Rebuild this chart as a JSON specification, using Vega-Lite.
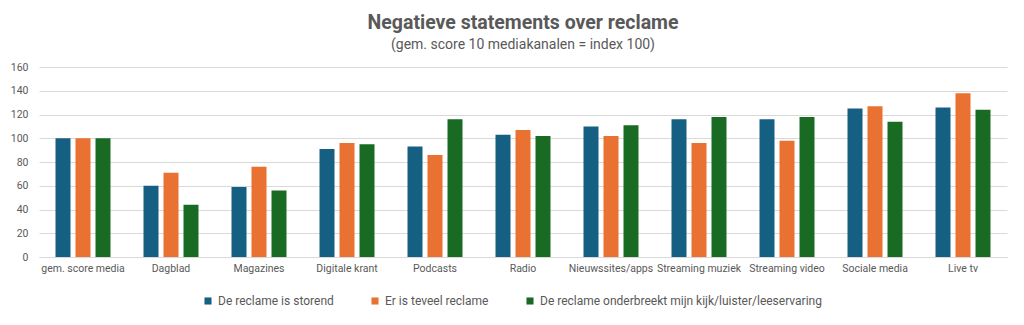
{
  "$schema": "https://vega.github.io/schema/vega-lite/v6.json",
  "autosize": {"type": "none"},
  "width": 968,
  "height": 190,
  "padding": {"left": 39, "top": 67, "right": 17, "bottom": 68},
  "background": "white",
  "title": {
    "text": "Negatieve statements over reclame",
    "subtitle": "(gem. score 10 mediakanalen = index 100)",
    "anchor": "middle",
    "font": "Roboto",
    "fontSize": 19.5,
    "fontWeight": "bold",
    "color": "#595959",
    "subtitleFont": "Roboto",
    "subtitleFontSize": 14,
    "subtitleColor": "#595959",
    "subtitlePadding": 5,
    "offset": 9
  },
  "data": {
    "values": [
      {"kanaal": "gem. score media", "statement": "De reclame is storend", "index": 100},
      {"kanaal": "gem. score media", "statement": "Er is teveel reclame", "index": 100},
      {"kanaal": "gem. score media", "statement": "De reclame onderbreekt mijn kijk/luister/leeservaring", "index": 100},
      {"kanaal": "Dagblad", "statement": "De reclame is storend", "index": 60},
      {"kanaal": "Dagblad", "statement": "Er is teveel reclame", "index": 71},
      {"kanaal": "Dagblad", "statement": "De reclame onderbreekt mijn kijk/luister/leeservaring", "index": 44},
      {"kanaal": "Magazines", "statement": "De reclame is storend", "index": 59},
      {"kanaal": "Magazines", "statement": "Er is teveel reclame", "index": 76},
      {"kanaal": "Magazines", "statement": "De reclame onderbreekt mijn kijk/luister/leeservaring", "index": 56},
      {"kanaal": "Digitale krant", "statement": "De reclame is storend", "index": 91},
      {"kanaal": "Digitale krant", "statement": "Er is teveel reclame", "index": 96},
      {"kanaal": "Digitale krant", "statement": "De reclame onderbreekt mijn kijk/luister/leeservaring", "index": 95},
      {"kanaal": "Podcasts", "statement": "De reclame is storend", "index": 93},
      {"kanaal": "Podcasts", "statement": "Er is teveel reclame", "index": 86},
      {"kanaal": "Podcasts", "statement": "De reclame onderbreekt mijn kijk/luister/leeservaring", "index": 116},
      {"kanaal": "Radio", "statement": "De reclame is storend", "index": 103},
      {"kanaal": "Radio", "statement": "Er is teveel reclame", "index": 107},
      {"kanaal": "Radio", "statement": "De reclame onderbreekt mijn kijk/luister/leeservaring", "index": 102},
      {"kanaal": "Nieuwssites/apps", "statement": "De reclame is storend", "index": 110},
      {"kanaal": "Nieuwssites/apps", "statement": "Er is teveel reclame", "index": 102},
      {"kanaal": "Nieuwssites/apps", "statement": "De reclame onderbreekt mijn kijk/luister/leeservaring", "index": 111},
      {"kanaal": "Streaming muziek", "statement": "De reclame is storend", "index": 116},
      {"kanaal": "Streaming muziek", "statement": "Er is teveel reclame", "index": 96},
      {"kanaal": "Streaming muziek", "statement": "De reclame onderbreekt mijn kijk/luister/leeservaring", "index": 118},
      {"kanaal": "Streaming video", "statement": "De reclame is storend", "index": 116},
      {"kanaal": "Streaming video", "statement": "Er is teveel reclame", "index": 98},
      {"kanaal": "Streaming video", "statement": "De reclame onderbreekt mijn kijk/luister/leeservaring", "index": 118},
      {"kanaal": "Sociale media", "statement": "De reclame is storend", "index": 125},
      {"kanaal": "Sociale media", "statement": "Er is teveel reclame", "index": 127},
      {"kanaal": "Sociale media", "statement": "De reclame onderbreekt mijn kijk/luister/leeservaring", "index": 114},
      {"kanaal": "Live tv", "statement": "De reclame is storend", "index": 126},
      {"kanaal": "Live tv", "statement": "Er is teveel reclame", "index": 138},
      {"kanaal": "Live tv", "statement": "De reclame onderbreekt mijn kijk/luister/leeservaring", "index": 124}
    ]
  },
  "mark": {"type": "bar"},
  "encoding": {
    "x": {
      "field": "kanaal",
      "type": "nominal",
      "sort": null,
      "scale": {"paddingInner": 0.375, "paddingOuter": 0.1875},
      "axis": {
        "title": null,
        "labelAngle": 0,
        "labelFont": "Roboto",
        "labelFontSize": 10.5,
        "labelColor": "#595959",
        "labelPadding": 6,
        "ticks": false,
        "domainColor": "#d9d9d9",
        "labelLimit": 120
      }
    },
    "xOffset": {
      "field": "statement",
      "type": "nominal",
      "sort": null,
      "scale": {"paddingInner": 0.25, "paddingOuter": 0}
    },
    "y": {
      "field": "index",
      "type": "quantitative",
      "scale": {"domain": [0, 160], "nice": false},
      "axis": {
        "title": null,
        "values": [0, 20, 40, 60, 80, 100, 120, 140, 160],
        "labelFont": "Roboto",
        "labelFontSize": 10.5,
        "labelColor": "#595959",
        "labelPadding": 11,
        "ticks": false,
        "domain": false,
        "gridColor": "#d9d9d9"
      }
    },
    "color": {
      "field": "statement",
      "type": "nominal",
      "sort": null,
      "scale": {"range": ["#156082", "#e97132", "#196b24"]},
      "legend": {
        "title": null,
        "orient": "none",
        "direction": "horizontal",
        "legendX": 163,
        "legendY": 228,
        "symbolType": "square",
        "symbolSize": 50,
        "symbolStrokeWidth": 0,
        "labelFont": "Roboto",
        "labelFontSize": 12,
        "labelColor": "#595959",
        "labelLimit": 400,
        "columnPadding": 35,
        "labelOffset": 4
      }
    }
  },
  "config": {"view": {"stroke": null}}
}
